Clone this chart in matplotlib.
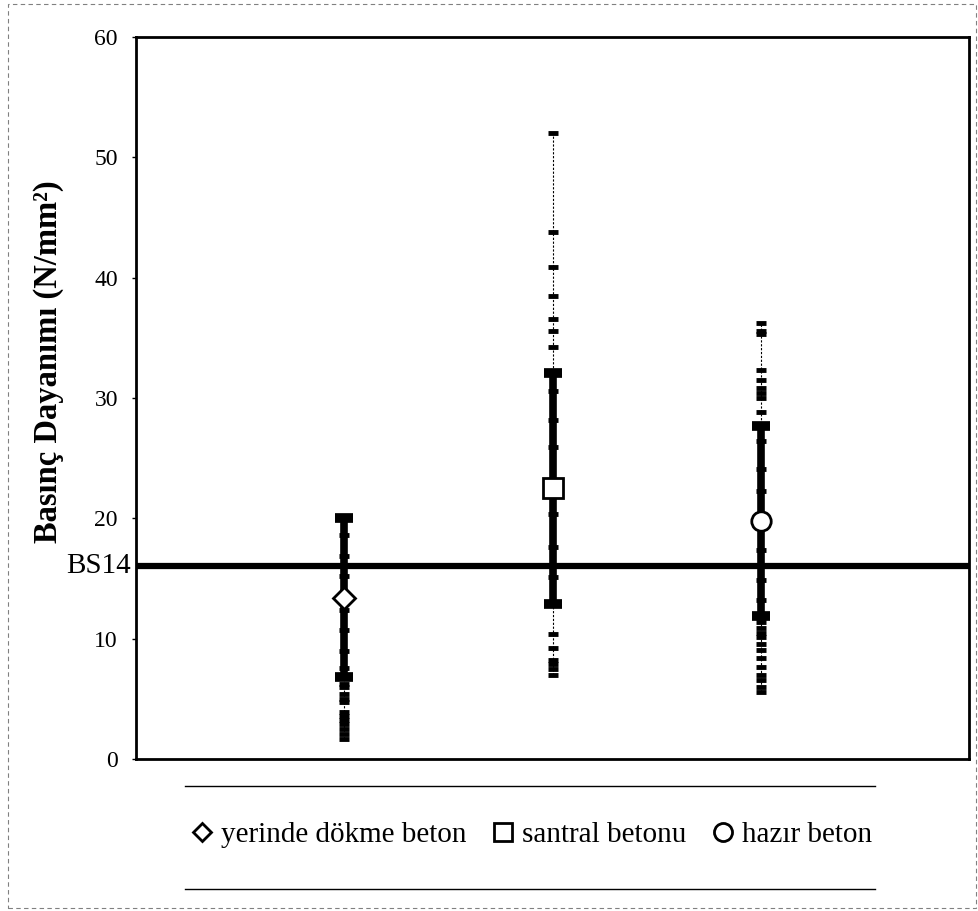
import matplotlib
matplotlib.use("Agg")
import matplotlib.pyplot as plt
from matplotlib.lines import Line2D
from matplotlib.patches import Rectangle
import matplotlib.transforms as mtransforms

plt.rcParams['font.family'] = ['Liberation Serif', 'DejaVu Serif']

# groups
labels = ["yerinde dökme beton", "santral betonu", "hazır beton"]
markers = ["D", "s", "o"]
xpos = [1, 2, 3]

# mean and standard deviation (N/mm2)
means = [13.4, 22.5, 19.8]
stds = [6.6, 9.6, 7.9]

# individual test results read from the dashes
pts_yerinde = [20.0, 18.6, 16.9, 15.2, 12.4, 10.7, 9.0, 7.6,
               6.2, 6.0, 5.4, 5.0, 4.75, 3.9, 3.6, 3.25, 2.9, 2.5, 2.1, 1.7]
pts_santral = [52.0, 43.8, 40.9, 38.5, 36.6, 35.6, 34.2, 30.6, 28.2,
               25.9, 20.4, 17.6, 15.1,
               10.4, 9.2, 8.2, 7.9, 7.5, 7.0]
pts_hazir = [36.2, 35.6, 35.3, 32.3, 31.5, 30.8, 30.4, 30.0, 28.8, 26.4,
             24.1, 22.3, 17.4, 14.9, 13.2,
             11.4, 10.9, 10.5, 10.1, 9.6, 9.1, 8.4, 7.65, 7.0, 6.6, 6.0, 5.6]
points = [pts_yerinde, pts_santral, pts_hazir]

bs_limit = 16
bs_label = "BS14"

fig = plt.figure(figsize=(9.79, 9.11), dpi=100)
ax = fig.add_axes([0.1389, 0.1668, 0.851, 0.7926])

for x, m, s, pts, mk in zip(xpos, means, stds, points, markers):
    # thin range line with dashes for every result
    ax.vlines(x, min(pts), max(pts), color="black", lw=0.8, linestyles=(0, (2, 1.5)), zorder=2)
    ax.plot([x] * len(pts), pts, ls="none", marker="_", ms=7, mew=3.5, color="black", zorder=3)
    # mean +/- std
    ax.errorbar(x, m, yerr=s, fmt="none", ecolor="black", elinewidth=5.5,
                capsize=6.5, capthick=7, zorder=4)

ax.axhline(bs_limit, color="black", lw=4.5, zorder=5)

for x, m, mk in zip(xpos, means, markers):
    ms = 11 if mk == "D" else 14
    ax.plot(x, m, marker=mk, ms=ms, mfc="white", mec="black", mew=2, ls="none", zorder=6)

trans = mtransforms.blended_transform_factory(ax.transAxes, ax.transData)
ax.text(-0.006, bs_limit, bs_label, transform=trans, ha="right", va="center", fontsize=21)

ax.set_xlim(0, 4)
ax.set_ylim(0, 60)
ax.set_yticks(range(0, 61, 10))
ax.set_xticks([])
ax.tick_params(axis="y", labelsize=17, length=3, width=1, pad=10)
for sp in ax.spines.values():
    sp.set_linewidth(2)

fig.text(49 / 979, 1 - 362 / 911, "Basınç Dayanımı (N/mm²)", rotation=90,
         ha="center", va="center", fontsize=23.5, fontweight="bold")

# legend
handles = [Line2D([], [], ls="none", marker=mk, ms=(9 if mk == "D" else 13),
                  mfc="white", mec="black", mew=2) for mk in markers]
fig.legend(handles, labels, loc="center", bbox_to_anchor=(532 / 979, 1 - 835 / 911),
           ncol=3, frameon=False, fontsize=21, handlelength=0.7, handletextpad=0.3,
           columnspacing=0.9)
for yy in [786, 889]:
    fig.add_artist(Line2D([185 / 979, 875 / 979], [1 - yy / 911] * 2,
                          color="black", lw=1, transform=fig.transFigure))

# outer dashed frame
fig.add_artist(Rectangle((8 / 979, 3 / 911), 968 / 979, 904 / 911, fill=False,
                         ec="gray", lw=0.8, ls=(0, (4, 3)), transform=fig.transFigure))

fig.savefig("out.png", dpi=100)
